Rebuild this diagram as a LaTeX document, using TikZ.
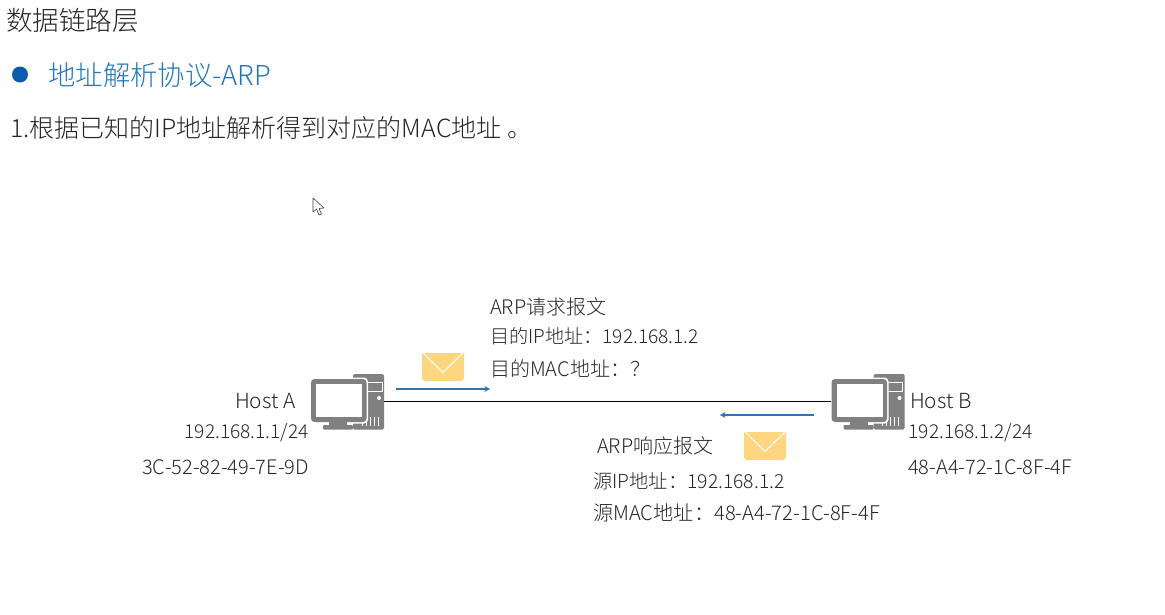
\documentclass[tikz,border=0pt]{standalone}
\usepackage{fontspec}
\setmainfont{Noto Sans CJK SC}[UprightFont=* Light]
\usetikzlibrary{arrows.meta}
\definecolor{iconGray}{HTML}{808080}
\definecolor{envFill}{HTML}{FFD680}
\definecolor{flowBlue}{HTML}{2E75B6}
\definecolor{titleBlue}{HTML}{2277BB}
\definecolor{bulletBlue}{HTML}{0B5CAD}
\definecolor{txt}{HTML}{262626}
\tikzset{
  x=1pt,y=-1pt,
  lbl/.style={inner sep=0pt,anchor=west,text=txt,font=\fontsize{20}{20}\selectfont},
  lblr/.style={inner sep=0pt,anchor=east,text=txt,font=\fontsize{20}{20}\selectfont},
  small/.style={font=\fontsize{19.1}{19}\selectfont},
  iconbox/.style={inner sep=0pt,minimum width=73pt,minimum height=56pt},
  flow/.style={draw=flowBlue,line width=1.1pt,-{Stealth[length=5.5pt,width=6pt]}},
  wire/.style={draw=black,line width=0.9pt},
  computer/.pic={
    \fill[iconGray,rounded corners=1.5pt] (42,0) rectangle (73,55.5);
    \draw[white,line width=0.8pt] (56,8) rectangle (71,17.5);
    \fill[white] (68,24) circle (2);
    \foreach \vx in {51,55,59,63,67} \draw[white,line width=0.8pt] (\vx,43) -- (\vx,52);
    \fill[white,rounded corners=4pt] (-1.5,3.5) rectangle (57,49.5);
    \fill[iconGray,rounded corners=3.5pt] (0,5) rectangle (55.5,48);
    \fill[white] (5,10) rectangle (51,43);
    \fill[iconGray] (18,48) rectangle (36,50.5);
    \fill[iconGray,rounded corners=1pt] (12,51) rectangle (42,55.5);
  },
  envelope/.pic={
    \fill[envFill,rounded corners=3pt] (0,-3) -- (0,28) -- (42,28) -- (42,-3) -- cycle;
    \fill[white] (-1,-4) rectangle (43,0);
    \draw[white,line width=1.1pt] (1,0) -- (21,19.5) -- (41,0);
  }
}
\begin{document}
\begin{tikzpicture}
\useasboundingbox[fill=white] (0,0) rectangle (1165,614);
\node[inner sep=0pt,anchor=west,text=txt,font=\fontsize{26.6}{26}\selectfont] (title) at (6,20) {数据链路层};
\node[circle,fill=bulletBlue,inner sep=0pt,minimum size=16pt] (bullet) at (20,74.5) {};
\node[inner sep=0pt,anchor=west,text=titleBlue,font=\fontsize{27.4}{27}\selectfont] (sub) at (48,75) {地址解析协议-ARP};
\node[inner sep=0pt,anchor=west,text=txt,font=\fontsize{25}{25}\selectfont] (line1) at (10,128) {1.根据已知的IP地址解析得到对应的MAC地址 。};
% cursor
\draw[line width=0.6pt,draw=black!75,fill=white,line join=round] (313,198) -- (313,212) -- (316.5,209) -- (319,215) -- (321.5,214) -- (319,208.5) -- (324,208) -- cycle;
% hosts
\node[iconbox] (hostA) at (347.5,401) {};
\node[iconbox] (hostB) at (868,401) {};
\pic at (311,374) {computer};
\pic at (831.5,374) {computer};
\draw[wire] (hostA.east) -- (hostB.west);
% envelopes
\pic at (422,353) {envelope};
\pic at (744,432) {envelope};
% flows
\coordinate (fa1) at (396,389);
\coordinate (fa2) at (490,389);
\coordinate (fb1) at (814,415);
\coordinate (fb2) at (720,415);
\draw[flow] (fa1) -- (fa2);
\draw[flow] (fb1) -- (fb2);
% labels
\node[lbl,font=\fontsize{20.8}{20}\selectfont] (hostAname) at (235,401) {Host A};
\node[lblr,small] (ipA) at (309,433) {192.168.1.1/24};
\node[lblr] (macA) at (309,467) {3C-52-82-49-7E-9D};
\node[lbl,font=\fontsize{20.8}{20}\selectfont] (hostBname) at (910,401) {Host B};
\node[lbl,small] (ipB) at (908.5,433) {192.168.1.2/24};
\node[lbl] (macB) at (908,467) {48-A4-72-1C-8F-4F};
\node[lbl] (req1) at (490,307) {ARP请求报文};
\node[lbl,small] (req2) at (490,336) {目的IP地址：192.168.1.2};
\node[lbl] (req3) at (490,369) {目的MAC地址：？};
\node[lbl] (rep1) at (597,446) {ARP响应报文};
\node[lbl,font=\fontsize{19.3}{19}\selectfont] (rep2) at (593,481) {源IP地址：192.168.1.2};
\node[lbl,font=\fontsize{20.2}{20}\selectfont] (rep3) at (593,513) {源MAC地址：48-A4-72-1C-8F-4F};
\end{tikzpicture}
\end{document}
